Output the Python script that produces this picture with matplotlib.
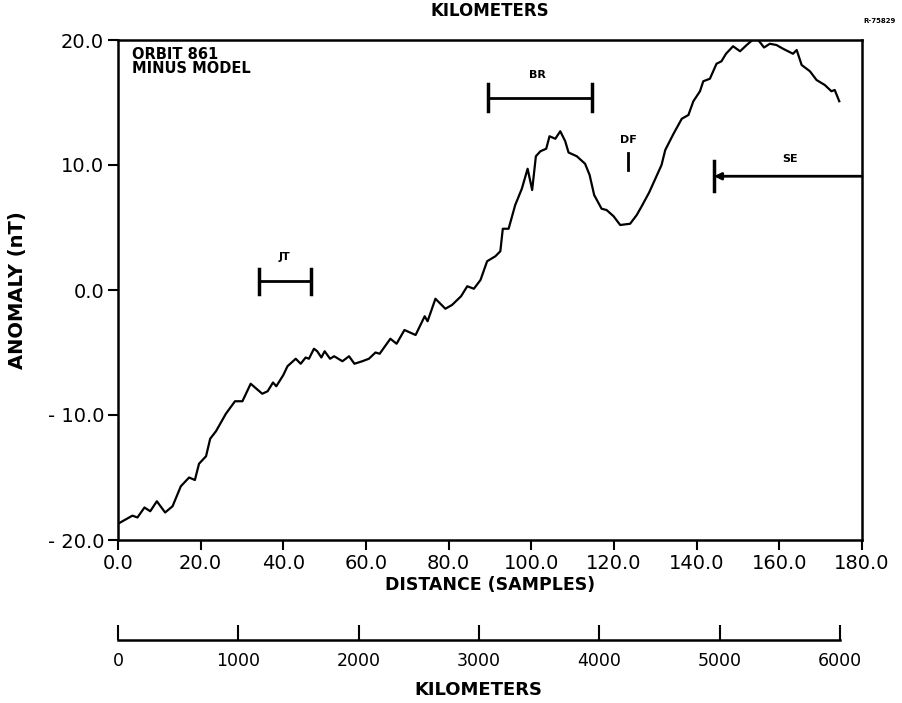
import numpy as np
import matplotlib
matplotlib.use("Agg")
import matplotlib.pyplot as plt

plt.rcParams['font.family'] = ['DejaVu Sans']

# anomaly profile (samples, nT)
dist = [0.0, 3.5, 4.7, 6.4, 7.8, 9.4, 11.4, 13.2, 15.2, 17.2, 18.6, 19.6,
        21.3, 22.3, 23.7, 26.1, 28.3, 30.1, 32.1, 34.9, 36.2, 37.5, 38.3,
        40.0, 41.0, 43.0, 44.2, 45.4, 46.2, 47.4, 48.2, 49.2, 50.0, 51.3,
        52.3, 54.3, 55.9, 57.2, 59.1, 60.7, 62.3, 63.3, 65.9, 67.4, 69.3,
        72.0, 74.2, 74.9, 76.8, 79.2, 80.8, 83.0, 84.5, 86.1, 87.7, 89.3,
        91.3, 92.5, 93.1, 94.5, 96.1, 97.7, 99.1, 100.2, 101.1, 102.2,
        103.6, 104.4, 105.8, 107.0, 108.2, 109.0, 111.0, 113.0, 114.1,
        115.2, 117.0, 118.2, 119.9, 121.5, 123.9, 125.5, 126.7, 128.5,
        130.0, 131.5, 132.4, 134.4, 136.4, 138.0, 139.2, 140.8, 141.6,
        143.2, 144.8, 146.0, 147.1, 148.8, 150.5, 152.1, 153.5, 154.9,
        156.3, 157.7, 159.3, 160.9, 163.3, 164.2, 165.4, 167.4, 169.0,
        171.0, 172.6, 173.4, 174.5]
anomaly = [-18.7, -18.05, -18.2, -17.4, -17.7, -16.9, -17.8, -17.3, -15.7,
           -15.0, -15.2, -13.9, -13.3, -11.9, -11.3, -9.9, -8.9, -8.9, -7.5,
           -8.3, -8.1, -7.4, -7.7, -6.8, -6.1, -5.5, -5.9, -5.4, -5.5, -4.7,
           -4.9, -5.4, -4.9, -5.5, -5.3, -5.7, -5.3, -5.9, -5.7, -5.5, -5.0,
           -5.1, -3.9, -4.3, -3.2, -3.6, -2.1, -2.5, -0.7, -1.5, -1.2, -0.5,
           0.3, 0.1, 0.8, 2.3, 2.7, 3.1, 4.9, 4.9, 6.8, 8.1, 9.7, 8.0, 10.7,
           11.1, 11.3, 12.3, 12.1, 12.7, 11.9, 11.0, 10.7, 10.1, 9.2, 7.6,
           6.5, 6.4, 5.9, 5.2, 5.3, 6.0, 6.7, 7.8, 8.9, 10.0, 11.2, 12.5,
           13.7, 14.0, 15.1, 15.9, 16.7, 16.9, 18.1, 18.3, 18.9, 19.5, 19.1,
           19.6, 20.0, 20.0, 19.4, 19.7, 19.6, 19.3, 18.9, 19.2, 18.0, 17.5,
           16.8, 16.4, 15.9, 16.0, 15.1]

x_ticks = [0, 20, 40, 60, 80, 100, 120, 140, 160, 180]
y_ticks = [20, 10, 0, -10, -20]
y_labels = ['20.0', '10.0', '0.0', '- 10.0', '- 20.0']
km_ticks = [0, 1000, 2000, 3000, 4000, 5000, 6000]

fig = plt.figure(figsize=(9.03, 7.03), dpi=100)
ax = fig.add_axes([118/903, 1 - 540/703, 744/903, 500/703])

ax.plot(dist, anomaly, color='black', lw=1.6)

ax.set_xlim(0, 180)
ax.set_ylim(-20, 20)
ax.set_xticks(x_ticks)
ax.set_xticklabels([f'{v:.1f}' for v in x_ticks], fontsize=14)
ax.set_yticks(y_ticks)
ax.set_yticklabels(y_labels, fontsize=14)
ax.tick_params(direction='out', length=7, width=1.5, pad=3)
for s in ax.spines.values():
    s.set_linewidth(1.8)

ax.set_xlabel('DISTANCE (SAMPLES)', fontsize=12.5, fontweight='bold', labelpad=2)
ax.set_ylabel('ANOMALY (nT)', fontsize=14, fontweight='bold')
ax.yaxis.set_label_coords(-0.122, 0.5)

ax.text(0.019, 0.986, 'ORBIT 861\nMINUS MODEL', transform=ax.transAxes,
        va='top', ha='left', fontsize=10.5, fontweight='bold', linespacing=0.95)

# feature brackets
def bracket(x0, x1, y, h):
    ax.plot([x0, x1], [y, y], color='black', lw=2)
    ax.plot([x0, x0], [y - h, y + h], color='black', lw=2.5)
    ax.plot([x1, x1], [y - h, y + h], color='black', lw=2.5)

bracket(34.1, 46.6, 0.7, 1.0)
ax.text(40.3, 2.2, 'JT', ha='center', va='bottom', fontsize=8, fontweight='bold')
bracket(89.6, 114.7, 15.4, 1.1)
ax.text(101.5, 16.8, 'BR', ha='center', va='bottom', fontsize=8, fontweight='bold')
ax.plot([123.4, 123.4], [9.6, 11.0], color='black', lw=2)
ax.text(123.4, 11.6, 'DF', ha='center', va='bottom', fontsize=8, fontweight='bold')
ax.annotate('', xy=(144.2, 9.1), xytext=(180, 9.1),
            arrowprops=dict(arrowstyle='-|>', color='black', lw=2,
                            mutation_scale=10, shrinkA=0, shrinkB=0))
ax.plot([144.2, 144.2], [7.9, 10.3], color='black', lw=2.5)
ax.text(162.5, 10.1, 'SE', ha='center', va='bottom', fontsize=8, fontweight='bold')

# kilometre scale
km = fig.add_axes([118/903, 1 - 640/703, 744/903, 0.0001])
km.set_xlim(0, 6000 * 744 / 722)
km.set_yticks([])
for side in ['top', 'left', 'right']:
    km.spines[side].set_visible(False)
km.spines['bottom'].set_bounds(0, 6000)
km.spines['bottom'].set_linewidth(1.8)
km.set_xticks(km_ticks)
km.set_xticklabels([str(v) for v in km_ticks], fontsize=12.5)
km.tick_params(axis='x', direction='in', length=11, width=1.5, pad=9)
km.patch.set_visible(False)

fig.text(478/903, 1 - 690/703, 'KILOMETERS', ha='center', va='center',
         fontsize=13, fontweight='bold')
fig.text(490/903, 1 - 2/703, 'KILOMETERS', ha='center', va='top',
         fontsize=12, fontweight='bold')
fig.text(880/903, 1 - 21/703, 'R-75829', ha='center', va='center',
         fontsize=5, fontweight='bold')

fig.savefig('out.png', dpi=100)
